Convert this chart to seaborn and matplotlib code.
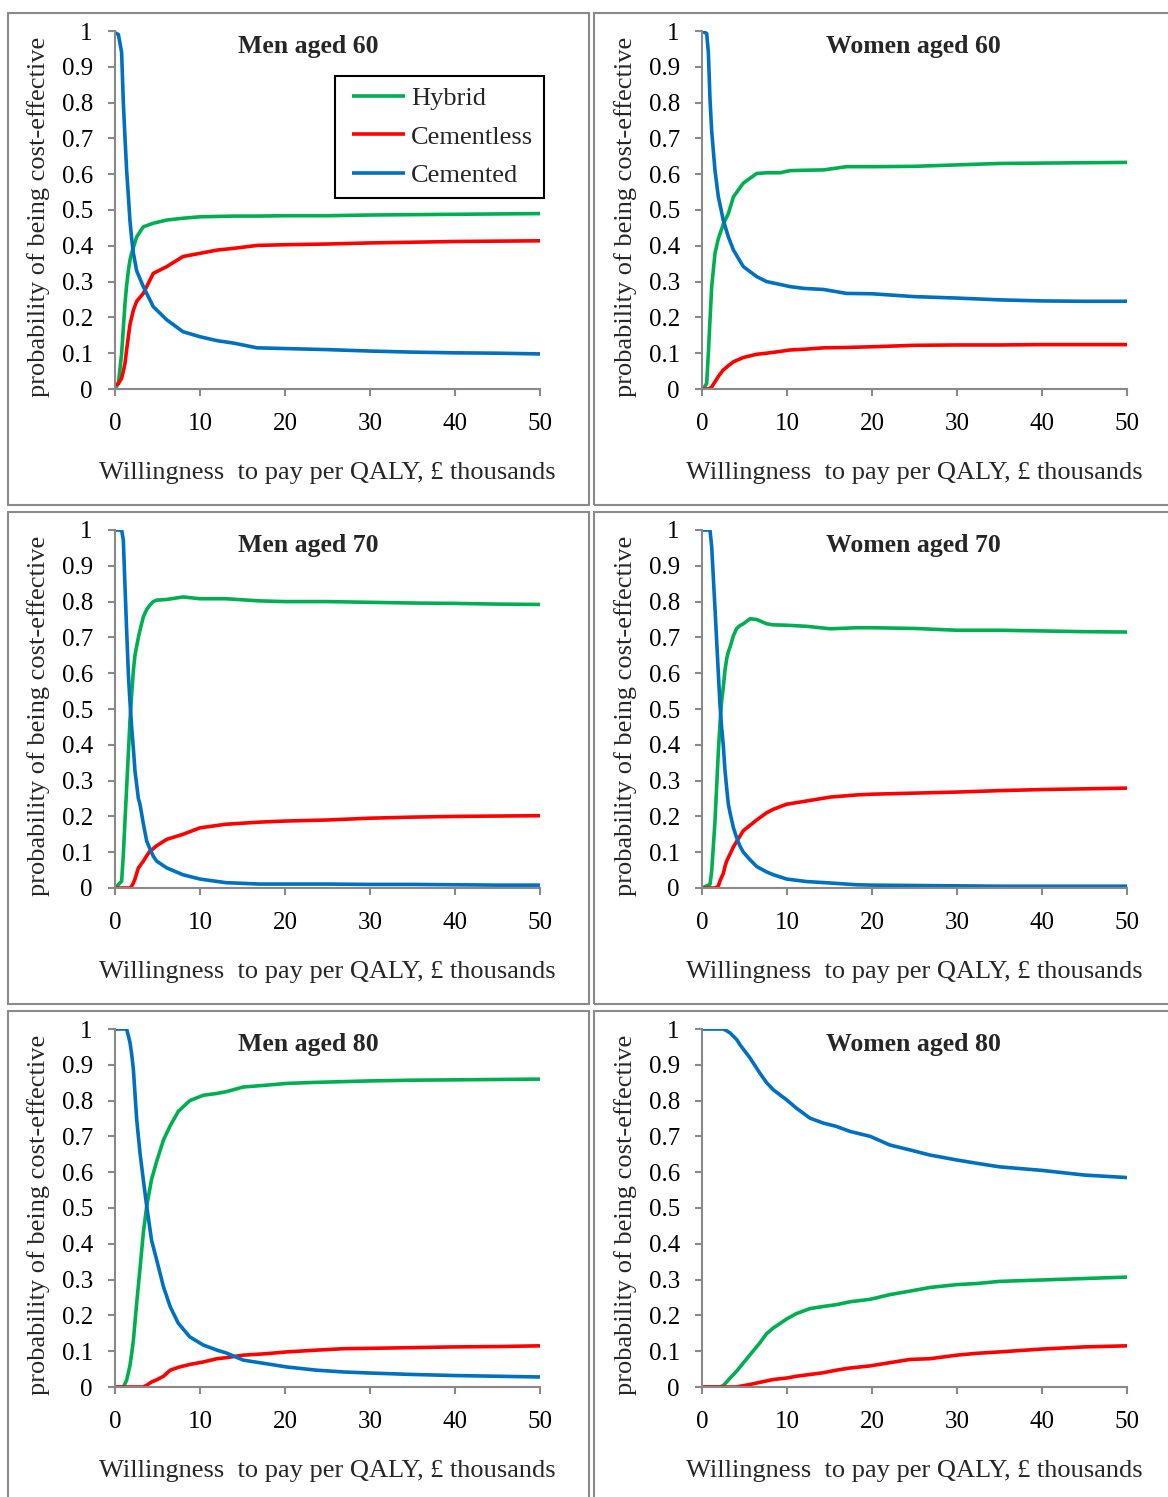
import numpy as np
import pandas as pd
import matplotlib
matplotlib.use("Agg")
import matplotlib.pyplot as plt
import seaborn as sns
from matplotlib.patches import Rectangle
from matplotlib.lines import Line2D
from matplotlib.legend_handler import HandlerLine2D
from matplotlib.ticker import FuncFormatter

# ---------------- data ----------------
strategies = ["Hybrid", "Cementless", "Cemented"]
titles = ["Men aged 60", "Women aged 60", "Men aged 70",
          "Women aged 70", "Men aged 80", "Women aged 80"]
x_ticks = [0, 10, 20, 30, 40, 50]
y_ticks = [0, 0.1, 0.2, 0.3, 0.4, 0.5, 0.6, 0.7, 0.8, 0.9, 1]
x_label = "Willingness  to pay per QALY, \u00a3 thousands"
y_label = "probability of being cost-effective"

# Men aged 60
m60_x = [0, 0.4, 0.78, 0.98, 1.18, 1.37, 1.57, 1.76, 1.96, 2.16, 2.55, 3.33, 4.5,
         6.1, 8.0, 10, 12, 14, 16.7, 20, 25, 30, 35, 40, 45, 50]
m60_hybrid = [0, 0.016, 0.10, 0.17, 0.24, 0.29, 0.33, 0.36, 0.38, 0.395, 0.425, 0.453,
              0.463, 0.472, 0.477, 0.481, 0.482, 0.483, 0.483, 0.484, 0.484, 0.486,
              0.487, 0.488, 0.489, 0.49]
m60_cementless = [0.011, 0.015, 0.03, 0.05, 0.072, 0.11, 0.146, 0.18, 0.20, 0.22, 0.245,
                  0.267, 0.323, 0.342, 0.37, 0.379, 0.388, 0.393, 0.401, 0.403, 0.405,
                  0.408, 0.41, 0.412, 0.413, 0.414]
m60_cemented = [0.995, 0.99, 0.94, 0.80, 0.70, 0.61, 0.54, 0.47, 0.42, 0.38, 0.33, 0.286,
                0.23, 0.193, 0.16, 0.146, 0.135, 0.128, 0.115, 0.113, 0.11, 0.106, 0.103,
                0.101, 0.100, 0.098]

# Women aged 60
w60_x = [0, 0.16, 0.55, 0.75, 0.94, 1.14, 1.53, 1.92, 2.5, 3.1, 3.7, 4.86, 6.43, 7.6,
         9.2, 10.35, 12, 14.3, 17, 20, 25, 30, 35, 40, 45, 50]
w60_hybrid = [0, 0, 0.016, 0.10, 0.193, 0.286, 0.379, 0.42, 0.46, 0.49, 0.537, 0.575,
              0.602, 0.604, 0.604, 0.61, 0.611, 0.612, 0.621, 0.621, 0.622, 0.626, 0.63,
              0.631, 0.632, 0.633]
w60_cementless = [0, 0, 0, 0, 0.002, 0.006, 0.02, 0.035, 0.053, 0.065, 0.076, 0.088,
                  0.097, 0.10, 0.105, 0.109, 0.111, 0.115, 0.116, 0.118, 0.122, 0.123,
                  0.123, 0.124, 0.124, 0.124]
w60_cemented = [1.0, 0.998, 0.993, 0.94, 0.81, 0.72, 0.61, 0.537, 0.472, 0.425, 0.388,
                0.342, 0.314, 0.30, 0.292, 0.286, 0.281, 0.278, 0.267, 0.266, 0.258,
                0.254, 0.249, 0.246, 0.245, 0.245]

# Men aged 70
m70_x = [0, 0.78, 0.98, 1.18, 1.37, 1.57, 1.76, 1.96, 2.16, 2.35, 2.75, 2.94, 3.33,
         3.73, 4.1, 4.5, 4.9, 6.1, 8.0, 10, 13, 17, 20, 25, 30, 35, 40, 45, 50]
m70_hybrid = [0, 0.019, 0.093, 0.19, 0.28, 0.375, 0.467, 0.54, 0.607, 0.65, 0.70, 0.72,
              0.757, 0.778, 0.79, 0.80, 0.804, 0.806, 0.813, 0.808, 0.808, 0.802, 0.80,
              0.80, 0.798, 0.796, 0.795, 0.793, 0.792]
m70_cementless = [0, 0, 0, 0, 0, 0, 0, 0.005, 0.014, 0.025, 0.056, 0.062, 0.075, 0.09,
                  0.103, 0.11, 0.118, 0.136, 0.15, 0.168, 0.178, 0.184, 0.187, 0.19,
                  0.195, 0.198, 0.2, 0.201, 0.202]
m70_cemented = [1, 1.0, 0.972, 0.84, 0.72, 0.60, 0.52, 0.449, 0.39, 0.327, 0.25, 0.234,
                0.18, 0.131, 0.11, 0.089, 0.075, 0.056, 0.037, 0.025, 0.015, 0.011,
                0.011, 0.011, 0.01, 0.01, 0.009, 0.008, 0.008]

# Women aged 70
w70_x = [0, 0.94, 1.14, 1.53, 1.92, 2.12, 2.3, 2.5, 2.7, 2.9, 3.1, 3.3, 3.7, 4.08, 4.47,
         4.86, 5.65, 6.43, 7.6, 8.4, 9.96, 12.3, 15.1, 18.2, 20, 25, 30, 35, 40, 45, 50]
w70_hybrid = [0, 0.01, 0.047, 0.187, 0.38, 0.46, 0.52, 0.56, 0.607, 0.64, 0.66, 0.673,
              0.705, 0.725, 0.733, 0.738, 0.752, 0.75, 0.738, 0.735, 0.734, 0.731,
              0.724, 0.727, 0.727, 0.725, 0.72, 0.72, 0.718, 0.716, 0.715]
w70_cementless = [0, 0, 0, 0, 0.005, 0.02, 0.03, 0.04, 0.06, 0.075, 0.085, 0.095, 0.115,
                  0.13, 0.145, 0.16, 0.175, 0.19, 0.21, 0.22, 0.234, 0.243, 0.254, 0.26,
                  0.262, 0.265, 0.268, 0.272, 0.275, 0.277, 0.279]
w70_cemented = [1, 1.0, 0.953, 0.78, 0.60, 0.51, 0.45, 0.40, 0.33, 0.28, 0.234, 0.21,
                0.168, 0.14, 0.117, 0.10, 0.079, 0.06, 0.045, 0.037, 0.025, 0.018,
                0.014, 0.009, 0.008, 0.007, 0.006, 0.005, 0.005, 0.005, 0.005]

# Men aged 80
m80_x = [0, 0.98, 1.37, 1.76, 1.96, 2.16, 2.55, 2.94, 3.33, 3.73, 4.3, 4.9, 5.7, 6.5,
         7.45, 8.8, 10.4, 12, 13.1, 15.1, 17.8, 20.2, 23.7, 26.9, 30, 35, 40, 45, 50]
m80_hybrid = [0, 0, 0.019, 0.06, 0.093, 0.13, 0.234, 0.33, 0.43, 0.505, 0.58, 0.63,
              0.69, 0.73, 0.77, 0.80, 0.815, 0.82, 0.825, 0.838, 0.843, 0.848, 0.851,
              0.853, 0.855, 0.857, 0.858, 0.859, 0.86]
m80_cementless = [0, 0, 0, 0, 0, 0, 0, 0, 0, 0.005, 0.014, 0.02, 0.03, 0.047, 0.055,
                  0.063, 0.07, 0.079, 0.082, 0.089, 0.093, 0.098, 0.103, 0.107, 0.108,
                  0.11, 0.112, 0.113, 0.115]
m80_cemented = [1, 1.0, 1.0, 0.963, 0.93, 0.888, 0.748, 0.654, 0.579, 0.505, 0.41,
                0.355, 0.28, 0.224, 0.178, 0.14, 0.117, 0.103, 0.095, 0.075, 0.065,
                0.056, 0.047, 0.042, 0.039, 0.035, 0.032, 0.03, 0.028]

# Women aged 80
w80_x = [0, 2.1, 2.5, 2.9, 3.3, 4.1, 4.47, 5.65, 6.8, 7.6, 8.4, 9.96, 11.1, 12.7, 14.3,
         15.8, 17.4, 19.8, 22.1, 24.5, 26.8, 30, 32.3, 35, 40, 45, 50]
w80_hybrid = [0, 0, 0.004, 0.014, 0.025, 0.045, 0.056, 0.09, 0.123, 0.149, 0.165, 0.19,
              0.205, 0.219, 0.225, 0.23, 0.238, 0.245, 0.258, 0.268, 0.278, 0.286,
              0.289, 0.295, 0.299, 0.303, 0.307]
w80_cementless = [0, 0, 0, 0, 0, 0, 0.002, 0.007, 0.013, 0.017, 0.021, 0.025, 0.03,
                  0.035, 0.04, 0.047, 0.053, 0.059, 0.068, 0.077, 0.079, 0.089, 0.094,
                  0.098, 0.106, 0.112, 0.115]
w80_cemented = [1, 1, 1.0, 0.995, 0.989, 0.97, 0.956, 0.919, 0.877, 0.85, 0.83, 0.802,
                0.779, 0.751, 0.737, 0.728, 0.714, 0.70, 0.676, 0.662, 0.648, 0.634,
                0.625, 0.615, 0.605, 0.592, 0.585]

panel_data = [
    (m60_x, m60_hybrid, m60_cementless, m60_cemented),
    (w60_x, w60_hybrid, w60_cementless, w60_cemented),
    (m70_x, m70_hybrid, m70_cementless, m70_cemented),
    (w70_x, w70_hybrid, w70_cementless, w70_cemented),
    (m80_x, m80_hybrid, m80_cementless, m80_cemented),
    (w80_x, w80_hybrid, w80_cementless, w80_cemented),
]

# ---------------- style ----------------
sns.set_style("ticks")
plt.rcParams['font.family'] = ['Liberation Serif', 'DejaVu Serif']
palette = {"Hybrid": "#00B050", "Cementless": "#FF0000", "Cemented": "#0070C0"}
axis_grey = "#898989"

W, H = 1168, 1497
fig = plt.figure(figsize=(W / 100, H / 100), dpi=100)

col_ax_left = [115, 702]
row_ax_top = [31, 530, 1029]
ax_w, ax_h = 425, 358
col_box_left = [8, 594]
row_box_top = [13, 512, 1011]
box_w, box_h = 581, 492
title_xfrac = [0.454, 0.4965]

for i, (xs, hy, cl, cm) in enumerate(panel_data):
    r, c = divmod(i, 2)
    # chart-area frame
    fig.add_artist(Rectangle((col_box_left[c] / W, 1 - (row_box_top[r] + box_h) / H),
                             box_w / W, box_h / H, transform=fig.transFigure,
                             fill=False, ec="#8a8a8a", lw=1.5))
    ax = fig.add_axes([col_ax_left[c] / W, 1 - (row_ax_top[r] + ax_h) / H,
                       ax_w / W, ax_h / H])
    df = pd.concat([
        pd.DataFrame({"x": xs, "p": hy, "Strategy": "Hybrid"}),
        pd.DataFrame({"x": xs, "p": cl, "Strategy": "Cementless"}),
        pd.DataFrame({"x": xs, "p": cm, "Strategy": "Cemented"}),
    ], ignore_index=True)
    sns.lineplot(data=df, x="x", y="p", hue="Strategy", hue_order=strategies,
                 palette=palette, estimator=None, sort=False, linewidth=2.6,
                 ax=ax, legend=(i == 0))
    ax.set_xlim(0, 50)
    ax.set_ylim(0, 1)
    ax.set_xticks(x_ticks)
    ax.set_yticks(y_ticks)
    ax.yaxis.set_major_formatter(FuncFormatter(lambda v, p: f"{v:g}"))
    for s in ["top", "right"]:
        ax.spines[s].set_visible(False)
    for s in ["left", "bottom"]:
        ax.spines[s].set_color(axis_grey)
        ax.spines[s].set_linewidth(1.5)
    ax.tick_params(axis="both", direction="out", length=5, width=1.5,
                   color=axis_grey, labelcolor="black", labelsize=18)
    ax.tick_params(axis="y", pad=11)
    ax.tick_params(axis="x", pad=12)
    ax.set_xlabel(x_label, fontsize=19)
    ax.set_ylabel(y_label, fontsize=19)
    ax.xaxis.set_label_coords(0.5, -0.205)
    ax.yaxis.set_label_coords(-0.153, 0.48)
    ax.text(title_xfrac[c], 0.9385, titles[i], transform=ax.transAxes,
            ha="center", va="baseline", fontsize=18.5, fontweight="bold")
    for ln in ax.lines:
        ln.set_solid_capstyle("butt")
    if i == 0:
        handles, labels = ax.get_legend_handles_labels()
        keep = [(h, l) for h, l in zip(handles, labels) if l in strategies]
        leg = ax.legend([h for h, _ in keep], [l for _, l in keep],
                        loc="upper left", bbox_to_anchor=(0.518, 0.874),
                        borderaxespad=0, frameon=True, fancybox=False,
                        edgecolor="black", framealpha=1, fontsize=19,
                        handlelength=2.25, handletextpad=0.23, labelspacing=0.57,
                        borderpad=0.4, title=None,
                        handler_map={Line2D: HandlerLine2D(xpad=0.25)})
        leg.get_frame().set_linewidth(1.5)

fig.savefig("out.png", dpi=100)
